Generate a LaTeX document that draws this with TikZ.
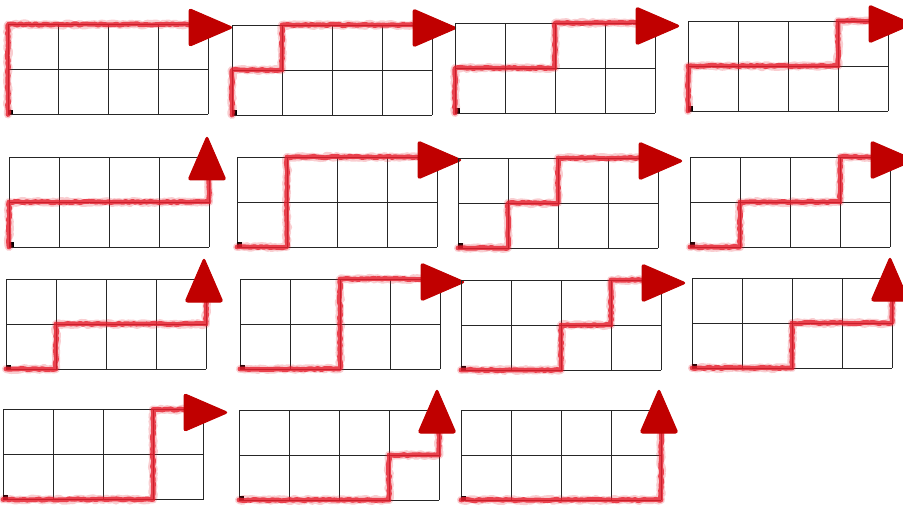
\documentclass[tikz,border=0pt]{standalone}
\usetikzlibrary{decorations.pathmorphing}
\definecolor{pathred}{RGB}{230,30,45}
\definecolor{arrred}{RGB}{192,0,0}
\tikzset{
  gridline/.style={line width=0.9pt, draw=black!85},
  redhalo/.style={draw=pathred, line width=8pt, opacity=0.22, line join=round, line cap=round,
    decorate, decoration={random steps, segment length=2.5pt, amplitude=1.1pt}},
  redcore/.style={draw=pathred, line width=4.8pt, opacity=0.8, line join=round, line cap=round,
    decorate, decoration={random steps, segment length=3pt, amplitude=0.7pt}},
  arrowhd/.style={fill=arrred, draw=arrred, line width=1pt, rounded corners=2.5pt, line join=round},
  originmark/.style={fill=black},
}
\newcommand\lpgrid[4]{%
  \begin{scope}[shift={(#1pt,#2pt)}, x=50pt, y=45pt]
    \foreach \gx in {0,1,2,3,4} {\draw[gridline] (\gx,0) -- (\gx,2);}
    \foreach \gy in {0,1,2} {\draw[gridline] (0,\gy) -- (4,\gy);}
    \fill[originmark] (0,0) rectangle (4.5pt,4.5pt);
    \if r#4
      \draw[redhalo] (0,0) #3 -- ([xshift=-16pt]4,2);
      \draw[redcore] (0,0) #3 -- ([xshift=-16pt]4,2);
      \filldraw[arrowhd] ([shift={(-19pt,16pt)}]4,2) -- ([shift={(25pt,-3pt)}]4,2)
        -- ([shift={(-19pt,-22pt)}]4,2) -- cycle;
    \else
      \draw[redhalo] (0,0) #3 -- ([yshift=-20pt]4,2);
      \draw[redcore] (0,0) #3 -- ([yshift=-20pt]4,2);
      \filldraw[arrowhd] ([shift={(-21pt,-23pt)}]4,2) -- ([shift={(-2pt,21pt)}]4,2)
        -- ([shift={(17pt,-23pt)}]4,2) -- cycle;
    \fi
  \end{scope}%
}
\begin{document}
\begin{tikzpicture}
\pgfmathsetseed{7}
\fill[white] (0,0) rectangle (903pt,507pt);
\useasboundingbox (0,0) rectangle (903pt,507pt);
% row 1
\lpgrid{8}{392.5}{-- (0,2)}{r}
\lpgrid{232}{392}{-- (0,1) -- (1,1) -- (1,2)}{r}
\lpgrid{455}{394}{-- (0,1) -- (2,1) -- (2,2)}{r}
\lpgrid{688}{396}{-- (0,1) -- (3,1) -- (3,2)}{r}
% row 2
\lpgrid{9}{260}{-- (0,1) -- (4,1)}{u}
\lpgrid{237}{260}{-- (1,0) -- (1,2)}{r}
\lpgrid{458}{259}{-- (1,0) -- (1,1) -- (2,1) -- (2,2)}{r}
\lpgrid{690}{260}{-- (1,0) -- (1,1) -- (3,1) -- (3,2)}{r}
% row 3
\lpgrid{6}{138}{-- (1,0) -- (1,1) -- (4,1)}{u}
\lpgrid{240}{138}{-- (2,0) -- (2,2)}{r}
\lpgrid{461}{137}{-- (2,0) -- (2,1) -- (3,1) -- (3,2)}{r}
\lpgrid{692}{139}{-- (2,0) -- (2,1) -- (4,1)}{u}
% row 4
\lpgrid{3}{7.5}{-- (3,0) -- (3,2)}{r}
\lpgrid{239}{7}{-- (3,0) -- (3,1) -- (4,1)}{u}
\lpgrid{461}{7}{-- (4,0)}{u}
\end{tikzpicture}
\end{document}
